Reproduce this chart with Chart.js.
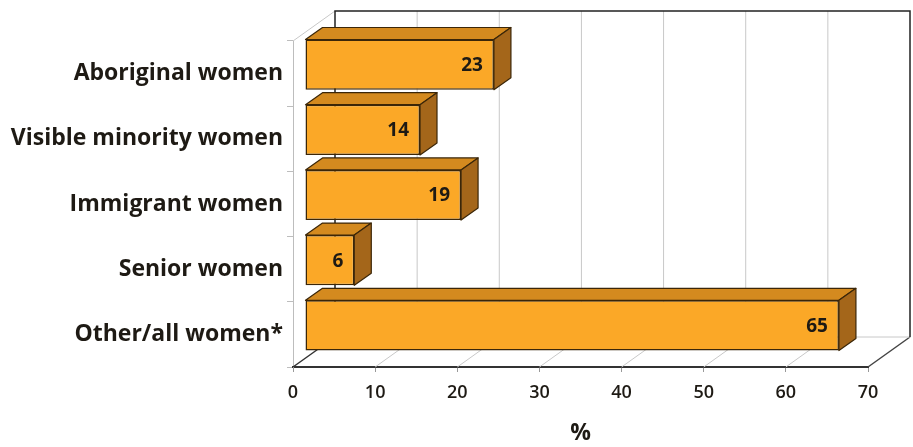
<!DOCTYPE html>
<html>
<head>
<meta charset="utf-8">
<script src="https://cdn.jsdelivr.net/npm/chart.js@4/dist/chart.umd.min.js"></script>
<style>
  html, body { margin: 0; padding: 0; background: #fff; }
  #wrap { width: 913px; height: 447px; }
</style>
</head>
<body>
<div id="wrap"><canvas id="myChart" width="913" height="447"></canvas></div>
<script>
// data
const categories = ['Aboriginal women', 'Visible minority women', 'Immigrant women', 'Senior women', 'Other/all women*'];
const values = [23, 14, 19, 6, 65];
const xTicks = [0, 10, 20, 30, 40, 50, 60, 70];
const xTitle = '%';

// 3d look: bars sit a bit back from the front floor edge, wall further back
const barShift = {x: 12, y: -9};
const barDepth = {x: 17, y: -12};
const wallDepth = {x: 42, y: -30};

const fontFamily = '"Open Sans", Lato, sans-serif';

var box3d = {
    id: 'box3d',
    beforeDatasetsDraw: function(chart) {
        const ctx = chart.ctx;
        const area = chart.chartArea;
        const xs = chart.scales.x;
        ctx.save();
        // back wall grid lines
        ctx.lineWidth = 1;
        ctx.strokeStyle = '#c8c8c8';
        xTicks.forEach(function(v) {
            const px = xs.getPixelForValue(v);
            if (v > 0 && v < 70) {
                ctx.beginPath();
                ctx.moveTo(px + wallDepth.x, area.top + wallDepth.y);
                ctx.lineTo(px + wallDepth.x, area.bottom + wallDepth.y);
                ctx.stroke();
            }
            // floor lines
            ctx.strokeStyle = (v === 0) ? '#333' : (v === 70 ? '#444' : '#c8c8c8');
            ctx.lineWidth = (v === 0 || v === 70) ? 1.5 : 1;
            ctx.beginPath();
            ctx.moveTo(px, area.bottom);
            ctx.lineTo(px + wallDepth.x, area.bottom + wallDepth.y);
            ctx.stroke();
            ctx.strokeStyle = '#c8c8c8';
            ctx.lineWidth = 1;
        });
        // back floor edge + left wall top diagonal
        ctx.strokeStyle = '#c8c8c8';
        ctx.beginPath();
        ctx.moveTo(area.left + wallDepth.x, area.bottom + wallDepth.y);
        ctx.lineTo(area.right + wallDepth.x, area.bottom + wallDepth.y);
        ctx.moveTo(area.left, area.top);
        ctx.lineTo(area.left + wallDepth.x, area.top + wallDepth.y);
        ctx.stroke();
        // back wall outline
        ctx.strokeStyle = '#222';
        ctx.lineWidth = 1.5;
        ctx.beginPath();
        ctx.moveTo(area.left + wallDepth.x, area.bottom + wallDepth.y);
        ctx.lineTo(area.left + wallDepth.x, area.top + wallDepth.y);
        ctx.lineTo(area.right + wallDepth.x, area.top + wallDepth.y);
        ctx.lineTo(area.right + wallDepth.x, area.bottom + wallDepth.y);
        ctx.stroke();

        // top and side faces of the bars
        const meta = chart.getDatasetMeta(0);
        ctx.lineWidth = 1.2;
        ctx.strokeStyle = '#3b2608';
        ctx.lineJoin = 'round';
        meta.data.forEach(function(bar) {
            const p = bar.getProps(['x', 'y', 'base', 'height'], true);
            const L = p.base + barShift.x, R = p.x + barShift.x;
            const T = p.y - p.height / 2 + barShift.y, B = p.y + p.height / 2 + barShift.y;
            ctx.fillStyle = '#d48a1f';
            ctx.beginPath();
            ctx.moveTo(L, T);
            ctx.lineTo(L + barDepth.x, T + barDepth.y);
            ctx.lineTo(R + barDepth.x, T + barDepth.y);
            ctx.lineTo(R, T);
            ctx.closePath();
            ctx.fill();
            ctx.stroke();
            ctx.fillStyle = '#a4661a';
            ctx.beginPath();
            ctx.moveTo(R, T);
            ctx.lineTo(R + barDepth.x, T + barDepth.y);
            ctx.lineTo(R + barDepth.x, B + barDepth.y);
            ctx.lineTo(R, B);
            ctx.closePath();
            ctx.fill();
            ctx.stroke();
        });
        ctx.restore();
        // front faces get drawn by chart.js, shifted back
        ctx.save();
        ctx.translate(barShift.x, barShift.y);
    },
    afterDatasetsDraw: function(chart) {
        const ctx = chart.ctx;
        ctx.restore();
        const meta = chart.getDatasetMeta(0);
        ctx.save();
        ctx.fillStyle = '#1e1a14';
        ctx.font = 'bold 19px ' + fontFamily;
        ctx.textAlign = 'right';
        ctx.textBaseline = 'middle';
        meta.data.forEach(function(bar, i) {
            const p = bar.getProps(['x', 'y'], true);
            ctx.fillText(String(values[i]), p.x + 1, p.y + barShift.y + 1);
        });
        ctx.restore();
    }
};

const config = {
    type: 'bar',
    data: {
        labels: categories,
        datasets: [{
            data: values,
            backgroundColor: '#fba827',
            borderColor: '#3b2608',
            borderWidth: 1.5,
            borderSkipped: false,
            categoryPercentage: 1,
            barPercentage: 0.77
        }]
    },
    options: {
        indexAxis: 'y',
        responsive: false,
        animation: false,
        clip: false,
        layout: {padding: {top: 41, right: 45, left: 0, bottom: 0}},
        plugins: {
            legend: {display: false},
            tooltip: {enabled: false}
        },
        scales: {
            x: {
                min: 0,
                max: 70,
                afterBuildTicks: function(scale) {
                    scale.ticks = xTicks.map(function(v) { return {value: v}; });
                },
                afterFit: function(scale) { scale.height = 80; },
                grid: {drawOnChartArea: false, drawTicks: true, tickLength: 5, color: '#999'},
                border: {display: true, color: '#333', width: 2},
                ticks: {
                    color: '#1e1a14',
                    padding: 10,
                    maxRotation: 0,
                    font: {family: fontFamily, size: 18, weight: '600'}
                },
                title: {
                    display: true,
                    text: xTitle,
                    color: '#1e1a14',
                    padding: {top: 0, bottom: 0},
                    font: {family: fontFamily, size: 23, weight: 'bold'}
                }
            },
            y: {
                offset: true,
                afterFit: function(scale) { scale.width = 293; },
                grid: {drawOnChartArea: false, drawTicks: true, tickLength: 6, offset: true, color: '#bdbdbd'},
                border: {display: true, color: '#bdbdbd', width: 1},
                ticks: {
                    color: '#1e1a14',
                    padding: 4,
                    font: {family: fontFamily, size: 23, weight: 'bold'}
                }
            }
        }
    },
    plugins: [box3d]
};

var myChart = new Chart(document.getElementById('myChart'), config);
</script>
</body>
</html>
